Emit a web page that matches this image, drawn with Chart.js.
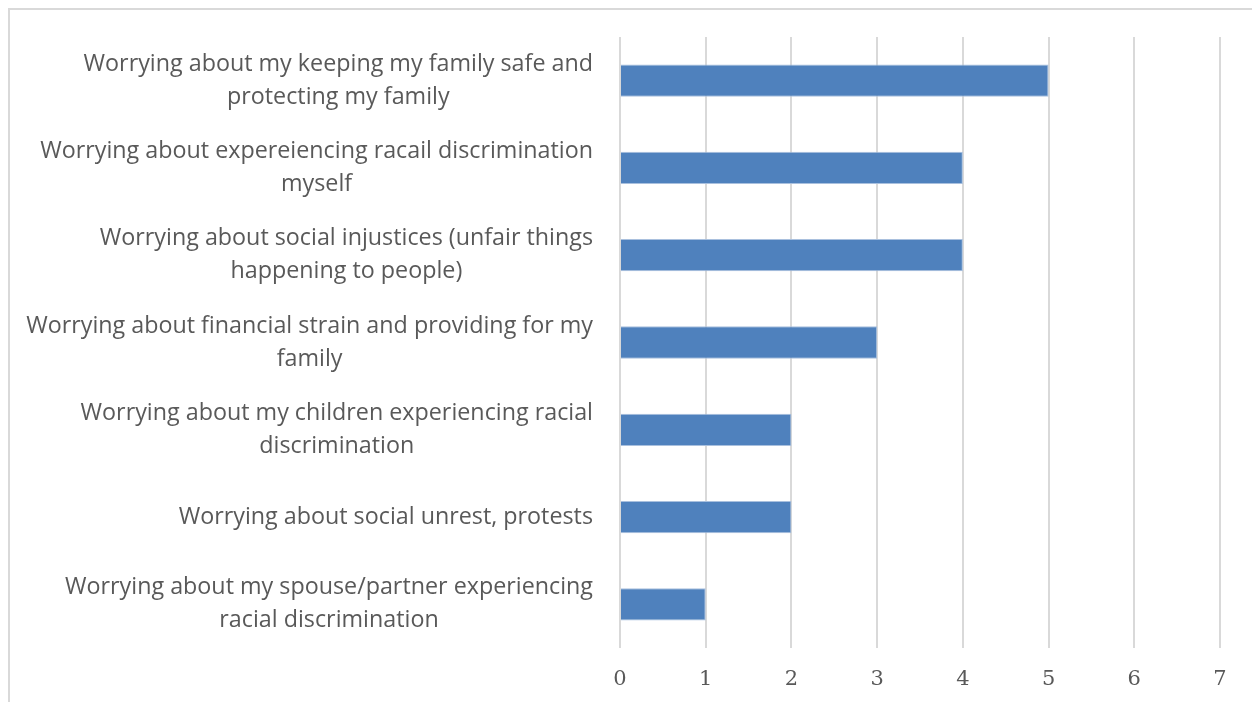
<!DOCTYPE html>
<html>
<head>
<meta charset="utf-8">
<script src="https://cdn.jsdelivr.net/npm/chart.js@4"></script>
<style>
    html, body { margin: 0; padding: 0; background: #ffffff; overflow: hidden; }
    #frame {
        position: absolute; left: 8px; top: 8px; width: 1300px; height: 760px;
        border-left: 2px solid #d9d9d9; border-top: 2px solid #d9d9d9;
    }
    #wrap { position: absolute; left: 0; top: 0; width: 1252px; height: 702px; }
</style>
</head>
<body>
<div id="frame"></div>
<div id="wrap"><canvas id="chartWorries"></canvas></div>
<script>
// Kategoriler (satırlara bölünmüş etiketler) ve değerler
const categories = [
    ['Worrying about my keeping my family safe and', 'protecting my family'],
    ['Worrying about expereiencing racail discrimination', 'myself'],
    ['Worrying about social injustices (unfair things', 'happening to people)'],
    ['Worrying about financial strain and providing for my', 'family'],
    ['Worrying about my children experiencing racial', 'discrimination'],
    ['Worrying about social unrest, protests'],
    ['Worrying about my spouse/partner experiencing', 'racial discrimination']
];
const counts = [5, 4, 4, 3, 2, 2, 1];
const axisMin = 0;
const axisMax = 7;
const axisStep = 1;

const BAR_COLOR = '#4f81bd';
const GRID_COLOR = '#d9d9d9';
const TEXT_COLOR = '#595959';
const LABEL_FONT = '23.3px "Open Sans"';
const LABEL_LINE = 33;
const LABEL_GAP = 27;

// Çok satırlı etiketleri blok olarak sağa, satırları kendi içinde ortaya hizalar
const centeredLabels = {
    id: 'centeredLabels',
    afterDraw(chart) {
        const c = chart.ctx;
        const yScale = chart.scales.y;
        const right = chart.chartArea.left - LABEL_GAP;
        c.save();
        c.font = LABEL_FONT;
        c.fillStyle = TEXT_COLOR;
        c.textAlign = 'center';
        c.textBaseline = 'middle';
        chart.data.labels.forEach((lines, i) => {
            const yc = yScale.getPixelForValue(i);
            const maxW = Math.max(...lines.map(l => c.measureText(l).width));
            const xc = right - maxW / 2;
            const top = yc - (lines.length - 1) * LABEL_LINE / 2;
            lines.forEach((l, j) => c.fillText(l, xc, top + j * LABEL_LINE));
        });
        c.restore();
    }
};

const ctx = document.getElementById('chartWorries');

new Chart(ctx, {
    type: 'bar',
    data: {
        labels: categories,
        datasets: [{
            data: counts,
            backgroundColor: BAR_COLOR,
            borderColor: '#a9c0de',
            borderWidth: 1,
            categoryPercentage: 1,
            barPercentage: 0.37
        }]
    },
    options: {
        indexAxis: 'y',
        responsive: true,
        maintainAspectRatio: false,
        animation: false,
        layout: { padding: { top: 37, right: 32, left: 0, bottom: 0 } },
        plugins: {
            legend: { display: false },
            tooltip: { enabled: false }
        },
        scales: {
            x: {
                min: axisMin,
                max: axisMax,
                ticks: {
                    stepSize: axisStep,
                    color: '#595959',
                    padding: 19,
                    font: { family: 'DejaVu Serif', size: 21 }
                },
                grid: { color: GRID_COLOR, lineWidth: 2, drawTicks: false },
                border: { display: false },
                afterFit: (scale) => { scale.height = 54; }
            },
            y: {
                ticks: { display: false },
                grid: { display: false, drawTicks: false },
                border: { display: false },
                afterFit: (scale) => { scale.width = 620; }
            }
        }
    },
    plugins: [centeredLabels]
});
</script>
</body>
</html>
